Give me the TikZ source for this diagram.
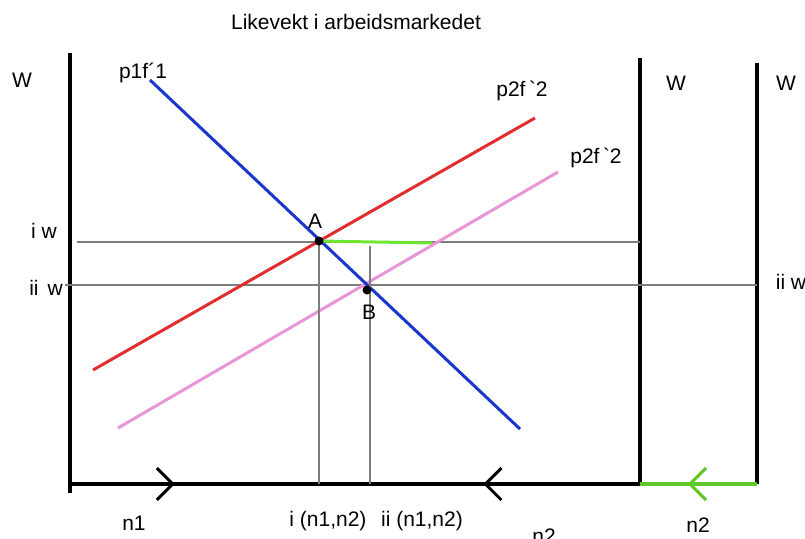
\documentclass[tikz,border=0pt]{standalone}
\usepackage{fontspec}
\setmainfont{Liberation Sans}
\usetikzlibrary{arrows.meta,decorations.markings}

\definecolor{blueline}{RGB}{25,55,205}
\definecolor{redline}{RGB}{225,45,45}
\definecolor{pinkline}{RGB}{232,150,215}
\definecolor{greenline}{RGB}{110,230,50}
\definecolor{greenaxis}{RGB}{95,200,40}
\definecolor{guidegray}{RGB}{125,125,125}

\tikzset{
  axis/.style={
    line width = 4.5pt
  },
  guide/.style={
    line width = 1.2pt,
    color = guidegray
  },
  curve/.style={
    line width = 3pt
  },
  lbl/.style={
    font = \fontsize{21}{25}\selectfont,
    inner sep = 0pt
  },
  eqdot/.style={
    shape = circle,
    fill,
    inner sep = 0pt,
    minimum size = 9pt
  },
  barb/.tip={Straight Barb[length=16pt,width=32pt,line width=3pt]}
}

\begin{document}
\begin{tikzpicture}[x=1pt,y=-1pt]
    \useasboundingbox (0,0) rectangle (805,538);

    % axes
    \coordinate (top1) at (70,53);
    \coordinate (bot1) at (70,493);
    \coordinate (o1) at (70,484);
    \coordinate (top2) at (640,58);
    \coordinate (o2) at (640,484);
    \coordinate (top3) at (757,63);
    \coordinate (o3) at (757,484);

    \draw[axis] (top1) -- (bot1);
    \draw[axis] (top2) -- (o2);
    \draw[axis] (top3) -- (o3);
    \draw[axis,postaction={decorate},
          decoration={markings,
            mark=at position 0.184 with {\arrow{barb}},
            mark=at position 0.725 with {\arrowreversed{barb}}}] (o1) -- (o2);
    \draw[axis,greenaxis,postaction={decorate},
          decoration={markings,
            mark=at position 0.41 with {\arrowreversed{barb}}}] (o2) -- (o3);

    % wage levels
    \coordinate (iwL) at (77,242);
    \coordinate (iwR) at (640,242);
    \coordinate (iiwL) at (65,285);
    \coordinate (iiwR) at (757,285);
    \draw[guide] (iwL) -- (iwR);
    \draw[guide] (iiwL) -- (iiwR);

    % curves
    \coordinate (b1) at (150,80);
    \coordinate (b2) at (520,429);
    \coordinate (r1) at (93,370);
    \coordinate (r2) at (535,118);
    \coordinate (p1) at (118,428);
    \coordinate (p2) at (558,172);
    \draw[curve,redline] (r1) -- (r2);
    \draw[curve,pinkline] (p1) -- (p2);
    \draw[curve,blueline] (b1) -- (b2);

    % equilibria
    \coordinate (eA) at (319,241);
    \coordinate (gEnd) at (432,243);
    \coordinate (nA) at (319,484);
    \coordinate (nBtop) at (370,246);
    \coordinate (nB) at (370,484);
    \draw[curve,greenline] (eA) -- (gEnd);
    \draw[guide] (eA) -- (nA);
    \draw[guide] (nBtop) -- (nB);
    \node[eqdot] (A) at (eA) {};
    \node[eqdot] (B) at (367,290) {};

    % labels
    \node[lbl] (title) at (356,22) {Likevekt i arbeidsmarkedet};
    \node[lbl] (W1) at (22,80) {W};
    \node[lbl] (W2) at (676,83) {W};
    \node[lbl] (W3) at (786,83) {W};
    \node[lbl] (labB1) at (143,73) {p1f´1};
    \node[lbl] (labR) at (522,91) {p2f\,\textasciigrave2};
    \node[lbl] (labP) at (596,158) {p2f\,\textasciigrave2};
    \node[lbl] (iw) at (44,231) {i w};
    \node[lbl] (iiw) at (46,288) {ii\hspace{9pt}w};
    \node[lbl] (labIIw) at (791,282) {ii w};
    \node[lbl] (labA) at (315,221) {A};
    \node[lbl] (labBB) at (369,312) {B};
    \node[lbl] (n1) at (134,523) {n1};
    \node[lbl] (nI) at (328,521) {i (n1,n2)};
    \node[lbl] (nII) at (422,521) {ii (n1,n2)};
    \node[lbl] (n2a) at (544,536) {n2};
    \node[lbl] (n2b) at (698,525) {n2};
\end{tikzpicture}
\end{document}
